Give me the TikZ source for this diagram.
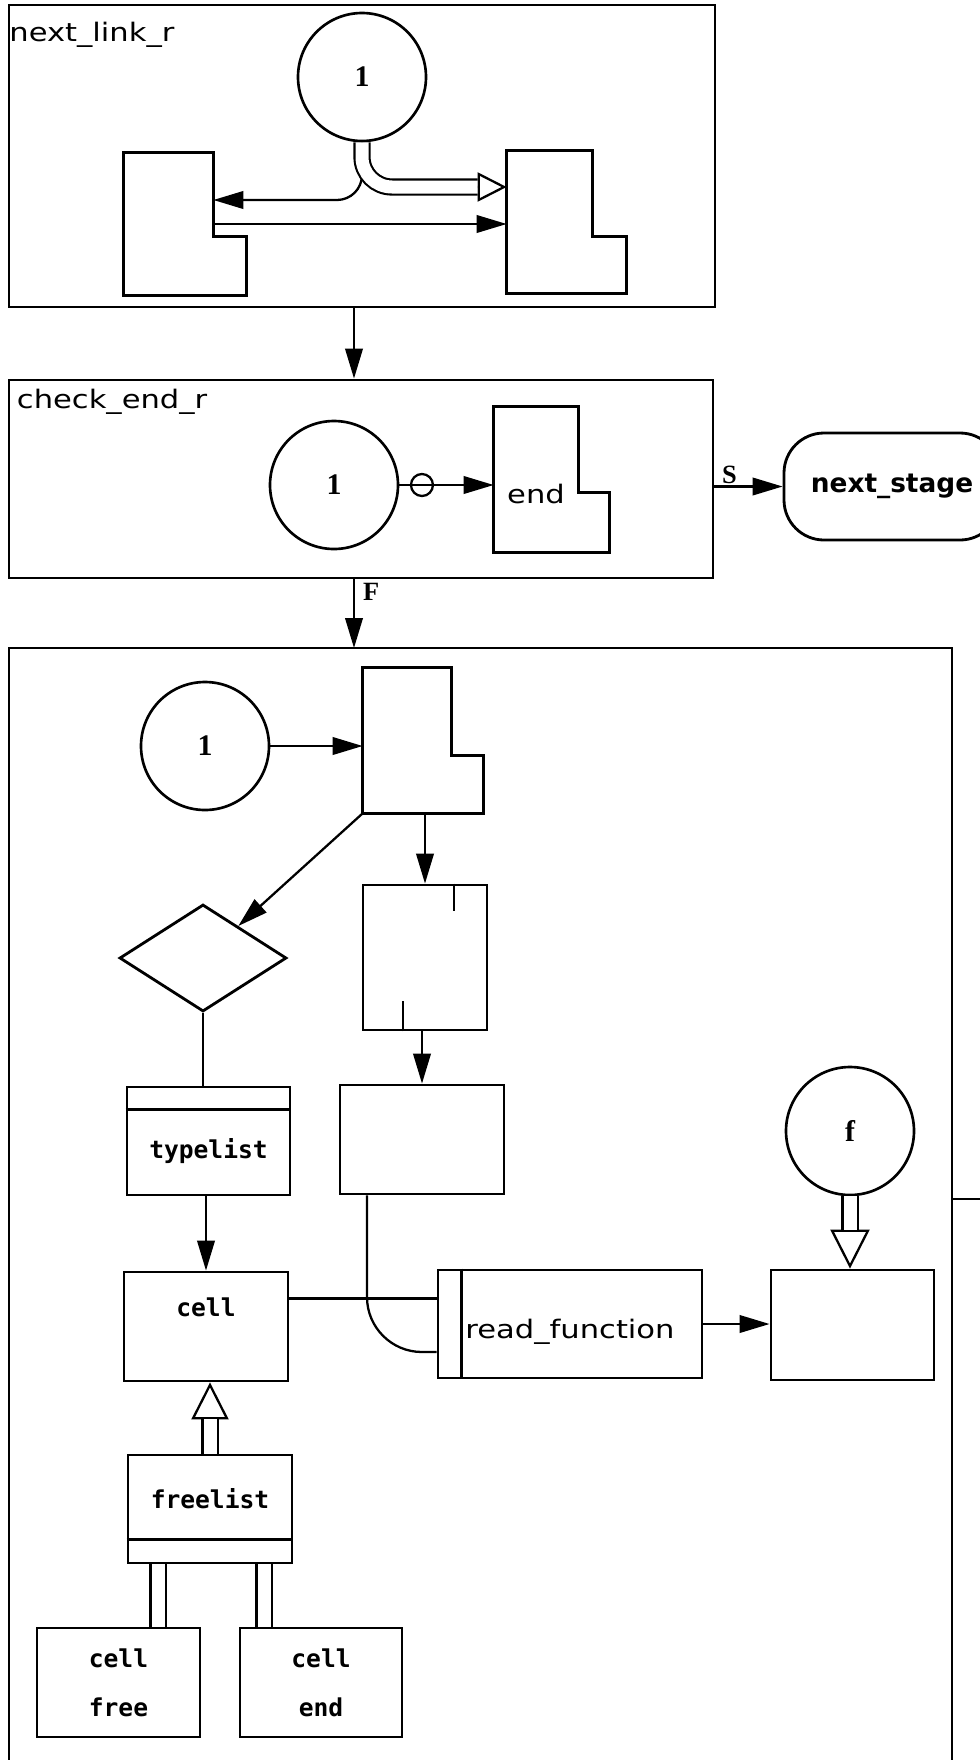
\documentclass[tikz,border=0pt]{standalone}
\usepackage{fontspec}
\setmainfont{Liberation Serif}
\newfontfamily\lblfont[FakeStretch=1.2]{DejaVu Sans}
\newfontfamily\cellfont{DejaVu Sans Mono}
\newfontfamily\stagefont{DejaVu Sans}
\usetikzlibrary{shapes.geometric, arrows.meta, positioning, calc}

\begin{document}
\begin{tikzpicture}[
    x=0.2mm, y=-0.2mm,
    frame/.style={draw, line width=1.6pt},
    conn/.style={draw, line width=1.3pt},
    shp/.style={rectangle, draw, line width=1.6pt, inner sep=0pt},
    lspace/.style={rectangle, inner sep=0pt},
    circ/.style={circle, draw, line width=1.5pt, inner sep=0pt,
                 minimum size=25.6mm, font=\bfseries\fontsize{17}{20}\selectfont},
    lbl/.style={font=\lblfont\fontsize{14.5}{17}\selectfont, inner sep=0pt},
    cname/.style={font=\cellfont\bfseries\fontsize{14}{28}\selectfont, align=center},
    arr/.style={-{Triangle[length=6mm, width=3.5mm]}, line width=1.3pt},
    hollow/.style={-{Triangle[open, length=#1, width=#1]}, line width=1.3pt},
    hollow/.default=8mm,
    dbl/.style={double, double distance=2.6mm, line width=1.2pt}
  ]
    \useasboundingbox (0,0) rectangle (980,1760);

    % next_link_r
    \node[shp, minimum width=141.2mm, minimum height=60.4mm] (nlr) at (362,156) {};
    \node[lbl, anchor=base west] (nlrlbl) at ([shift={(0.3mm,-7.6mm)}]nlr.north west) {next\_link\_r};
    \node[circ] (ca) at (362,77) {1};
    \node[lspace, minimum width=17.8mm, minimum height=28.4mm] (nla) at (168.5,224) {};
    \draw[frame] (nla.north west) -- (nla.north east) -- ++(0,84) -- ++(33,0) |- (nla.south west) -- cycle;
    \node[lspace, minimum width=17mm, minimum height=28.4mm] (nlb) at (549.5,222) {};
    \draw[frame] (nlb.north west) -- (nlb.north east) -- ++(0,86) -- ++(34,0) |- (nlb.south west) -- cycle;

    \draw[arr, rounded corners=5mm] (ca.south) |- ([yshift=4.8mm]nla.east);
    \draw[hollow=5.8mm, rounded corners=6mm] (ca.south) |- ([yshift=7mm]nlb.west);
    \draw[dbl, rounded corners=6mm, shorten >=5.8mm] (ca.south) |- ([yshift=7mm]nlb.west);
    \draw[arr] (nla.east) -- (nla.east -| nlb.west);

    % check_end_r
    \coordinate (xa) at (354,0);
    \node[shp, minimum width=140.8mm, minimum height=39.6mm] (ceb) at (361,479) {};
    \node[lbl, anchor=base west] (ceblbl) at ([shift={(1.8mm,-6mm)}]ceb.north west) {check\_end\_r};
    \draw[arr] (nlr.south -| xa) -- (ceb.north -| xa);
    \node[circ] (cb) at (334,485) {1};
    \node[lspace, lbl, minimum width=16.8mm, minimum height=29mm] (nlc) at (536,479.5)
      {\raisebox{-4.7mm}[0pt][0pt]{end}};
    \draw[frame] (nlc.north west) -- (nlc.north east) -- ++(0,86) -- ++(31,0) |- (nlc.south west) -- cycle;
    \draw[arr] (cb.east) -- node[pos=0.24, circle, draw, line width=1.3pt, inner sep=0pt,
      minimum size=4.4mm] (cbmark) {} (cb.east -| nlc.west);

    % next_stage
    \node[draw, line width=1.6pt, rounded corners=8mm, minimum width=43.2mm, minimum height=21.4mm,
      font=\stagefont\bfseries\fontsize{15}{18}\selectfont] (ns) at (892,486.5) {next\_stage};
    \draw[arr] (ceb.east |- ns.west) -- node[pos=0.22, above, inner sep=1pt,
      font=\bfseries\fontsize{15}{17}\selectfont] (slbl) {S} (ns.west);

    % main frame
    \coordinate (mnw) at (9,648);
    \coordinate (mne) at (952,648);
    \coordinate (mexit) at (952,1199);
    \draw[frame] (9,1770) -- (mnw) -- (mne) -- (952,1770);
    \draw[frame] (mexit) -- ++(40,0);
    \draw[arr] (ceb.south -| xa) -- node[at start, anchor=north west, inner sep=0.6mm, xshift=1mm,
      font=\bfseries\fontsize{15}{17}\selectfont] (flbl) {F} (mnw -| xa);

    % top row
    \node[circ] (cc) at (205,746) {1};
    \node[lspace, minimum width=17.6mm, minimum height=29mm] (nld) at (407,740.5) {};
    \draw[frame] (nld.north west) -- (nld.north east) -- ++(0,88) -- ++(32,0) |- (nld.south west) -- cycle;
    \draw[arr] (cc.east) -- (cc.east -| nld.west);

    % decision and ticked box
    \node[diamond, draw, line width=1.6pt, inner sep=0pt, minimum width=33.4mm,
      minimum height=21.4mm] (dm) at (203,958) {};
    \draw[arr] (nld.south west) -- (dm);
    \node[shp, minimum width=24.8mm, minimum height=29mm] (tbox) at (425,957.5) {};
    \draw[frame] ([xshift=5.8mm]tbox.north) -- ++(0,27);
    \draw[frame] ([xshift=-4.4mm]tbox.south) -- ++(0,-30);
    \draw[arr] (tbox.north |- nld.south) -- (tbox.north);
    \node[shp, minimum width=32.8mm, minimum height=21.8mm] (ebox) at (422,1139.5) {};
    \draw[arr] (ebox.north |- tbox.south) -- (ebox.north);

    % typelist and cell
    \node[shp, cname, minimum width=32.6mm, minimum height=21.6mm] (tlist) at (208.5,1141)
      {\raisebox{-3.4mm}[0pt][0pt]{typelist}};
    \draw[frame] ([yshift=-4.8mm]tlist.north west) -- ([yshift=-4.8mm]tlist.north east);
    \draw[conn] (dm.south) -- (dm.south |- tlist.north);
    \node[shp, cname, minimum width=32.8mm, minimum height=21.8mm] (cell) at (206,1326.5)
      {\raisebox{2.1mm}[0pt][0pt]{cell}};
    \draw[arr] (cell.north |- tlist.south) -- (cell.north);

    % read_function
    \node[shp, lbl, minimum width=52.8mm, minimum height=21.6mm] (rfun) at (570,1324)
      {\raisebox{-2.8mm}[0pt][0pt]{read\_function}};
    \draw[frame] ([xshift=5mm]rfun.north west) -- ([xshift=5mm]rfun.south west);
    \draw[conn] ([yshift=5.6mm]cell.east) -- ([yshift=5.6mm]cell.east -| rfun.west);
    \draw[conn, rounded corners=11mm] ([xshift=-11mm]ebox.south) |- ([yshift=-5.6mm]rfun.west);

    % f
    \node[shp, minimum width=32.6mm, minimum height=22mm] (fbox) at (852.5,1325) {};
    \draw[arr] (rfun.east) -- (rfun.east -| fbox.west);
    \node[circ] (cf) at (850,1131) {f};
    \draw[hollow=7.8mm] (cf.south) -- (cf.south |- fbox.north);
    \draw[dbl, shorten >=7.8mm] (cf.south) -- (cf.south |- fbox.north);

    % freelist
    \node[shp, cname, minimum width=32.8mm, minimum height=21.6mm] (flist) at (210,1509)
      {\raisebox{0.2mm}[0pt][0pt]{freelist}};
    \draw[frame] ([yshift=5mm]flist.south west) -- ([yshift=5mm]flist.south east);
    \draw[hollow=7.4mm] (flist.north) -- (flist.north |- cell.south);
    \draw[dbl, shorten >=7.4mm] (flist.north) -- (flist.north |- cell.south);
    \node[shp, cname, minimum width=32.6mm, minimum height=21.8mm] (cfree) at (118.5,1682.5) {cell\\free};
    \node[shp, cname, minimum width=32.4mm, minimum height=21.8mm] (cend) at (321,1682.5) {cell\\end};
    \draw[dbl] ([xshift=-10.4mm]flist.south) -- ([xshift=-10.4mm]flist.south |- cfree.north);
    \draw[dbl] ([xshift=10.8mm]flist.south) -- ([xshift=10.8mm]flist.south |- cend.north);

  \end{tikzpicture}
\end{document}
